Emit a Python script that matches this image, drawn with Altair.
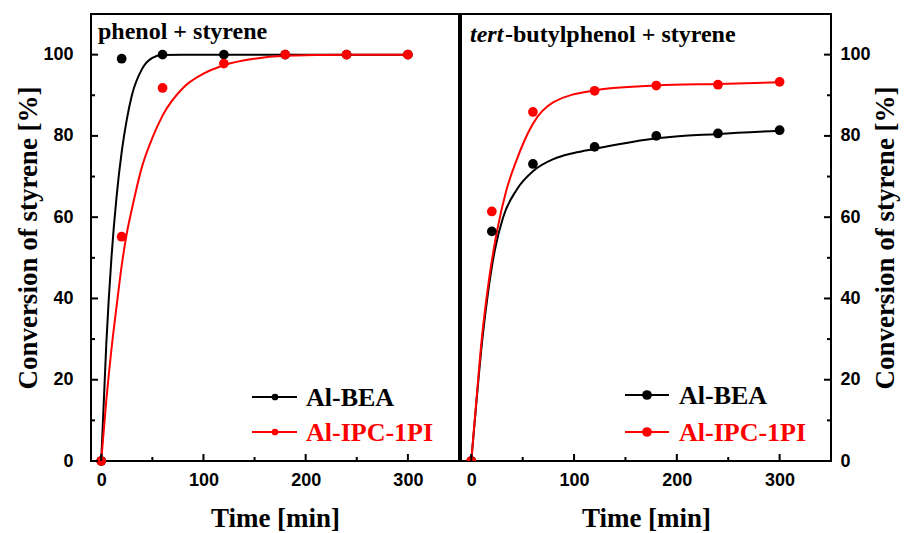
import altair as alt
import pandas as pd

series = ["Al-BEA", "Al-IPC-1PI"]
colors = ["#000000", "#ff0000"]

# measured points
time_pts = [0, 20, 60, 120, 180, 240, 300]
left_bea = [0, 99.0, 100, 100, 100, 100, 100]
left_ipc = [0, 55.2, 91.8, 97.8, 100, 100, 100]
right_bea = [0, 56.5, 73.1, 77.3, 80.0, 80.6, 81.4]
right_ipc = [0, 61.4, 85.9, 91.1, 92.4, 92.6, 93.3]

# fitted curves
lb_t = [0, 5, 10, 15, 20, 25, 30, 40, 50, 60, 80, 120, 180, 240, 300]
lb_v = [0, 29, 50, 65, 76, 84, 90, 96.5, 99.2, 99.9, 100, 100, 100, 100, 100]
li_t = [0, 5, 10, 15, 20, 25, 30, 40, 50, 60, 80, 100, 120, 150, 180, 240, 300]
li_v = [0, 15, 27.5, 38, 48, 56, 62, 72.5, 79.5, 85, 91.8, 95.3, 97.4, 99, 99.7, 100, 100]
rb_t = [0, 5, 10.7, 16.6, 23, 31, 44, 60, 80, 100, 120, 180, 240, 300]
rb_v = [0, 14.5, 29.8, 42, 52, 60, 66.7, 71.3, 74.3, 75.8, 76.8, 79.4, 80.5, 81.3]
ri_t = [0, 5, 10, 18, 25, 34, 44, 52, 60, 80, 120, 165, 180, 240, 300]
ri_v = [0, 15, 29.5, 46, 56.5, 66.5, 74, 79, 83, 88.3, 91.2, 92.2, 92.4, 92.8, 93.2]

x_major = [0, 100, 200, 300]
x_minor = [50, 150, 250]
y_major = [0, 20, 40, 60, 80, 100]
y_minor = [10, 30, 50, 70, 90]

H = 447
SERIF = "Liberation Serif"
SANS = "Liberation Sans"


def panel(p_bea, p_ipc, cb_t, cb_v, ci_t, ci_v, W, right):
    pts = pd.DataFrame({
        "t": time_pts + time_pts,
        "v": p_bea + p_ipc,
        "s": [series[0]] * len(time_pts) + [series[1]] * len(time_pts),
    })
    crv = pd.DataFrame({
        "t": cb_t + ci_t,
        "v": cb_v + ci_v,
        "s": [series[0]] * len(cb_t) + [series[1]] * len(ci_t),
    })
    xs = alt.Scale(domain=[-10, 350], nice=False, zero=False)
    ys = alt.Scale(domain=[0, 110], nice=False, zero=False)
    color = alt.Color("s:N", scale=alt.Scale(domain=series, range=colors), legend=None)

    xaxis = alt.Axis(values=x_major, title="Time [min]", labelPadding=10,
                     titlePadding=16, format="d", ticks=False, domain=False, grid=False)
    yaxis = alt.Axis(values=y_major, title="Conversion of styrene [%]",
                     orient="right" if right else "left",
                     labelPadding=9 if right else 18, titlePadding=29 if right else 0,
                     titleAngle=270, format="d", ticks=False, domain=False, grid=False)

    X = alt.X("t:Q", scale=xs, axis=xaxis)
    Y = alt.Y("v:Q", scale=ys, axis=yaxis)

    lines = alt.Chart(crv).mark_line(strokeWidth=2, interpolate="monotone").encode(
        x=X, y=Y, color=color, detail="s:N",
    )
    points = alt.Chart(pts).mark_circle(size=95, opacity=1, clip=right).encode(
        x=X, y=Y, color=color,
    )

    edge = W if right else 0
    sgn = -1 if right else 1

    def yticks(vals, ln):
        return alt.Chart(pd.DataFrame({"v": vals})).mark_rule(color="black", strokeWidth=2).encode(
            y=Y, x=alt.value(edge), x2=alt.value(edge + sgn * ln),
        )

    def xticks(vals, ln):
        return alt.Chart(pd.DataFrame({"t": vals})).mark_rule(color="black", strokeWidth=2).encode(
            x=X, y=alt.value(H), y2=alt.value(H - ln),
        )

    dummy = pd.DataFrame({"a": [0]})
    layers = [lines, points, yticks(y_major, 7), yticks(y_minor, 4),
              xticks(x_major, 7), xticks(x_minor, 4)]

    if not right:
        layers.append(alt.Chart(dummy).mark_text(
            font=SERIF, fontSize=24, fontWeight="bold", align="left", baseline="alphabetic",
            color="black").encode(x=alt.value(7), y=alt.value(25), text=alt.value("phenol + styrene")))
        lx1, lx2, dotx, tx, ly, dsize = 161, 206, 184, 215, [383, 418], 45
    else:
        layers.append(alt.Chart(dummy).mark_text(
            font=SERIF, fontSize=24, fontWeight="bold", fontStyle="italic", align="left",
            baseline="alphabetic", color="black").encode(
            x=alt.value(9), y=alt.value(28), text=alt.value("tert")))
        layers.append(alt.Chart(dummy).mark_text(
            font=SERIF, fontSize=24, fontWeight="bold", align="left",
            baseline="alphabetic", color="black").encode(
            x=alt.value(44), y=alt.value(28), text=alt.value("-butylphenol + styrene")))
        lx1, lx2, dotx, tx, ly, dsize = 164, 208, 186, 218, [381, 418], 95

    for i, s in enumerate(series):
        layers.append(alt.Chart(dummy).mark_rule(color=colors[i], strokeWidth=2).encode(
            x=alt.value(lx1), x2=alt.value(lx2), y=alt.value(ly[i])))
        layers.append(alt.Chart(dummy).mark_circle(color=colors[i], opacity=1, size=dsize).encode(
            x=alt.value(dotx), y=alt.value(ly[i])))
        layers.append(alt.Chart(dummy).mark_text(
            font=SERIF, fontSize=26, fontWeight="bold", align="left", baseline="alphabetic",
            color=colors[i]).encode(x=alt.value(tx), y=alt.value(ly[i] + 9), text=alt.value(s)))

    return alt.layer(*layers).properties(width=W, height=H)


left = panel(left_bea, left_ipc, lb_t, lb_v, li_t, li_v, 368, False)
right = panel(right_bea, right_ipc, rb_t, rb_v, ri_t, ri_v, 370, True)

chart = alt.hconcat(left, right, spacing=0).properties(
    autosize=alt.AutoSizeParams(type="none"),
    padding={"left": 83, "top": 6, "right": 810, "bottom": 519},
    background="white",
).configure_view(
    stroke="black", strokeWidth=2
).configure_axis(
    labelFont=SANS, labelFontWeight="bold", labelFontSize=18, labelColor="black",
    titleFont=SERIF, titleFontWeight="bold", titleFontSize=27, titleColor="black",
)

chart.save("out.html", embed_options={"renderer": "svg", "actions": False})
